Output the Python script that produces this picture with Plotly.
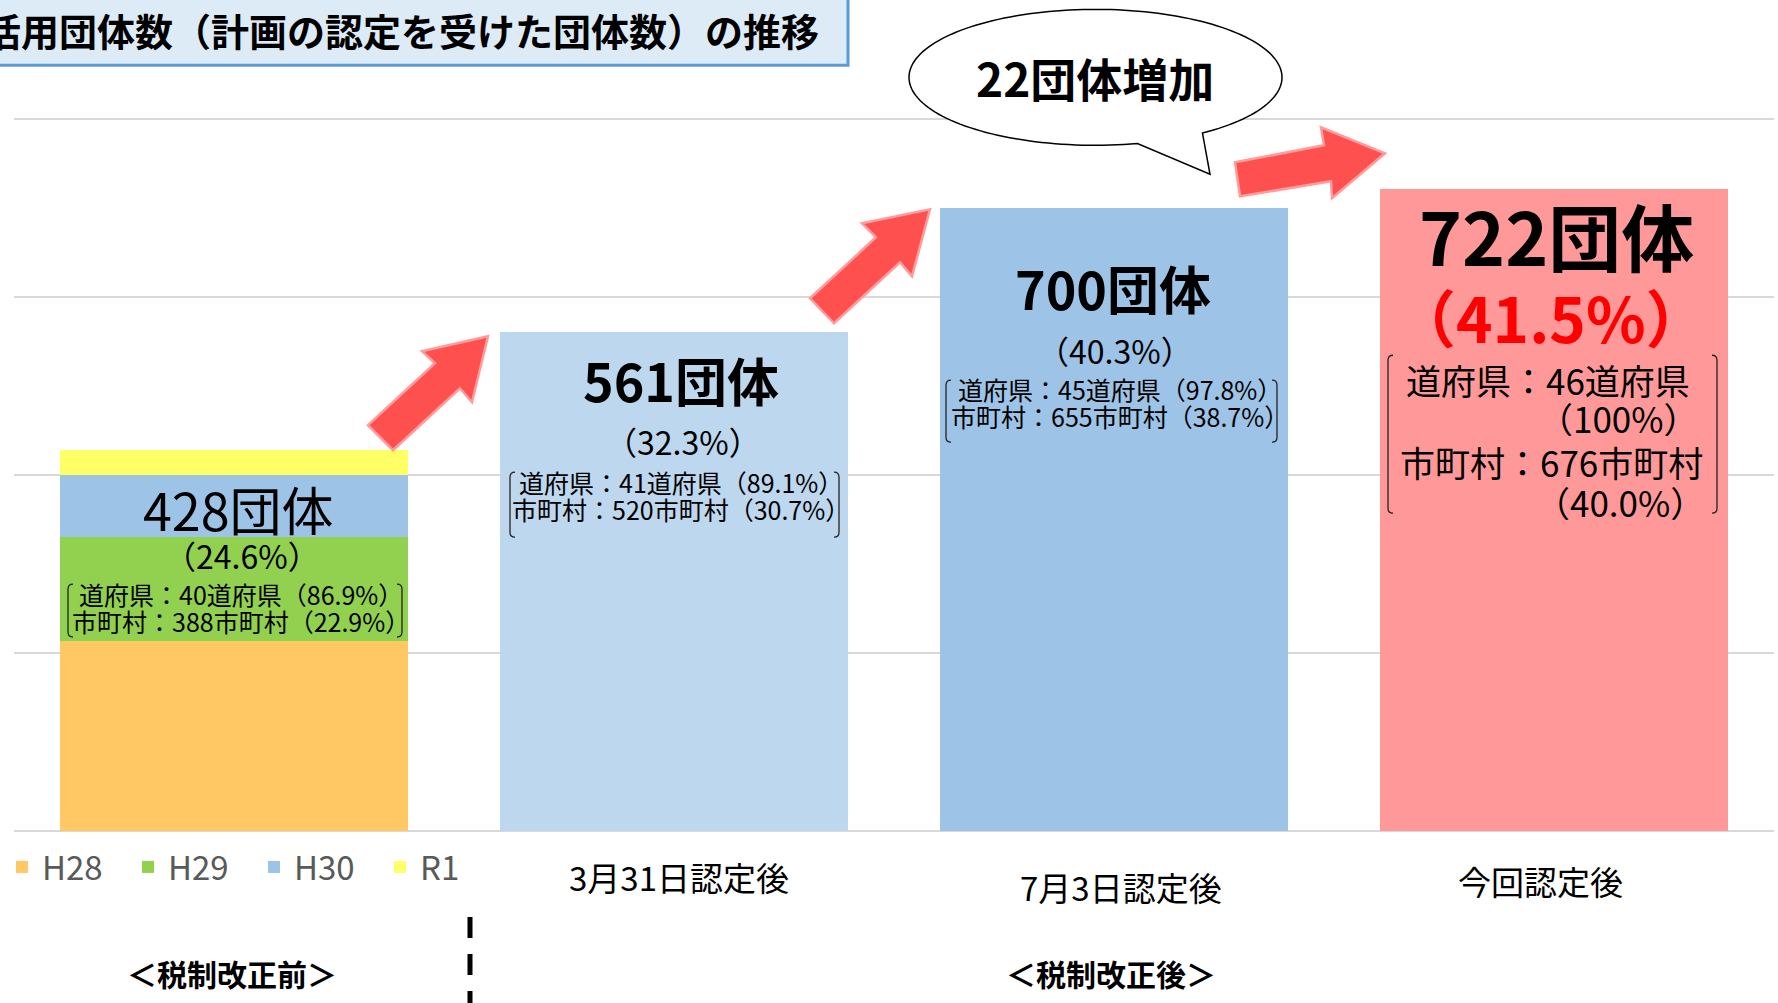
import numpy as np
import plotly.graph_objects as go

# ---------------- data ----------------
categories = ["", "3月31日認定後", "7月3日認定後", "今回認定後"]
stack_names = ["H28", "H29", "H30", "R1"]
stack_values = [214, 116, 70, 28]
after_values = [None, 561, 700, 722]
totals = [428, 561, 700, 722]
rates = ["24.6%", "32.3%", "40.3%", "41.5%"]
pref_counts = [40, 41, 45, 46]
pref_rates = ["86.9%", "89.1%", "97.8%", "100%"]
muni_counts = [388, 520, 655, 676]
muni_rates = ["22.9%", "30.7%", "38.7%", "40.0%"]
y_ticks = [0, 200, 400, 600, 800]
period_labels = ["＜税制改正前＞", "＜税制改正後＞"]
title_text = "活用団体数（計画の認定を受けた団体数）の推移"

# ---------------- styles ----------------
stack_colors = ["#FFC864", "#92D050", "#9DC3E6", "#FFFF66"]
after_colors = ["#BDD7EE", "#BDD7EE", "#9DC3E6", "#FF9999"]
JP = "Noto Sans CJK JP"
W, H = 1778, 1003
Y_MAX = 806                       # a little head-room so the 800 gridline shows
L, R, B = 14, 1774, 831
T = B - 712 * Y_MAX / 800         # 800 lands at pixel 119


def px(x):
    return (x - L) / (R - L)


def py(y):
    return (B - y) / (B - T)


xs = list(range(len(categories)))

fig = go.Figure()
for name, val, col in zip(stack_names, stack_values, stack_colors):
    fig.add_trace(go.Bar(
        x=xs, y=[val] + [None] * (len(xs) - 1), name=name,
        marker=dict(color=col, line=dict(width=0)), width=0.79,
        hoverinfo="skip"))
fig.add_trace(go.Bar(
    x=xs, y=after_values, name="after", showlegend=False,
    marker=dict(color=after_colors, line=dict(width=0)), width=0.79,
    hoverinfo="skip"))

annotations = []


def ann(text, x, y, size, bold=False, color="black", xref="x", xanchor="center", xshift=0):
    if bold:
        text = "<b>" + text + "</b>"
    annotations.append(dict(text=text, x=x, y=py(y), xref=xref, yref="paper",
                            showarrow=False, xanchor=xanchor, yanchor="middle",
                            xshift=xshift,
                            font=dict(family=JP, size=size, color=color)))


def pref_line(i):
    return f"道府県：{pref_counts[i]}道府県（{pref_rates[i]}）"


def muni_line(i):
    return f"市町村：{muni_counts[i]}市町村（{muni_rates[i]}）"


# bar 1
ann(f"{totals[0]}団体", 0, 508, 52, xshift=4.5)
ann(f"（{rates[0]}）", 0, 555, 32, xshift=8)
ann(pref_line(0), 0, 594, 25, xshift=7)
ann(muni_line(0), 0, 621, 25, xshift=7)
# bar 2
ann(f"{totals[1]}団体", 1, 379, 52, bold=True, xshift=6.5)
ann(f"（{rates[1]}）", 1, 441, 32, xshift=9)
ann(pref_line(1), 1, 482, 25, xshift=7)
ann(muni_line(1), 1, 509, 25, xshift=7)
# bar 3
ann(f"{totals[2]}団体", 2, 287, 52, bold=True, xshift=-1.5)
ann(f"（{rates[2]}）", 2, 350, 32, xshift=1)
ann(pref_line(2), 2, 389, 25, xshift=6)
ann(muni_line(2), 2, 416, 25, xshift=6)
# bar 4
ann(f"{totals[3]}団体", 3, 234, 73, bold=True, xshift=2.5)
ann(f"（{rates[3]}）", 3, 316, 62, bold=True, color="#FF0000", xshift=-3)
ann(f"道府県：{pref_counts[3]}道府県", 3, 379, 35, xshift=-6.5)
ann(f"（{pref_rates[3]}）", 3, 417, 35, xanchor="right", xshift=147)
ann(f"市町村：{muni_counts[3]}市町村", 3, 461, 35, xshift=-3)
ann(f"（{muni_rates[3]}）", 3, 501, 35, xanchor="right", xshift=153)

# category labels
ann(categories[1], 1, 877, 33, xshift=4.5)
ann(categories[2], 2, 887, 33, xshift=6.5)
ann(categories[3], 3, 881, 33, xshift=-13.5)

# period labels
ann(period_labels[0], px(232), 973, 30, bold=True, xref="paper")
ann(period_labels[1], px(1111), 973, 30, bold=True, xref="paper")

# callout text
ann(f"{totals[3] - totals[2]}団体増加", px(1095), 77, 46, bold=True, xref="paper")

# title
ann(title_text, px(821), 29, 38, bold=True, xref="paper", xanchor="right")

shapes = []


def path_from(points, close=True):
    s = "M " + " L ".join(f"{px(a):.5f},{py(b):.5f}" for a, b in points)
    return s + (" Z" if close else "")


# title box
shapes.append(dict(type="rect", xref="paper", yref="paper",
                   x0=px(-6), x1=px(848), y0=py(-6), y1=py(65),
                   fillcolor="#DDEBF7", line=dict(color="#5B9BD5", width=3),
                   layer="below"))

# brackets
brackets = [(68, 402, 584, 637), (510, 839, 472, 537),
            (946, 1277, 380, 442), (1388, 1717, 355, 513)]
for l_, r_, t_, b_ in brackets:
    c = 5
    left = (f"M {px(l_ + c):.5f},{py(t_):.5f} Q {px(l_):.5f},{py(t_):.5f} {px(l_):.5f},{py(t_ + c):.5f} "
            f"L {px(l_):.5f},{py(b_ - c):.5f} Q {px(l_):.5f},{py(b_):.5f} {px(l_ + c):.5f},{py(b_):.5f}")
    right = (f"M {px(r_ - c):.5f},{py(t_):.5f} Q {px(r_):.5f},{py(t_):.5f} {px(r_):.5f},{py(t_ + c):.5f} "
             f"L {px(r_):.5f},{py(b_ - c):.5f} Q {px(r_):.5f},{py(b_):.5f} {px(r_ - c):.5f},{py(b_):.5f}")
    for p in (left, right):
        shapes.append(dict(type="path", xref="paper", yref="paper", path=p,
                           line=dict(color="#222222", width=1.3)))

# arrows
arrows = [
    [(368, 425), (435, 363), (422, 351), (488, 336), (472, 402), (460, 388), (393, 450)],
    [(810, 298), (876, 237), (862, 223), (930, 209), (912, 276), (900, 262), (834, 323)],
    [(1235, 162), (1324, 145), (1321, 127), (1385, 153), (1332, 198), (1331, 181), (1240, 196)],
]
for pts in arrows:
    shapes.append(dict(type="path", xref="paper", yref="paper", path=path_from(pts),
                       fillcolor="#FF5050", line=dict(color="#FF9B9B", width=2.5)))

# callout ellipse with tail
cx, cy, rx, ry = 1095.5, 77, 186.5, 68
t0, t1 = np.deg2rad(77), np.deg2rad(55 + 360)
tt = np.linspace(t0, t1, 160)
pts = [(cx + rx * np.cos(t), cy + ry * np.sin(t)) for t in tt]
pts.append((1210, 174))
shapes.append(dict(type="path", xref="paper", yref="paper", path=path_from(pts),
                   fillcolor="white", line=dict(color="black", width=1.5)))

# dashed divider
shapes.append(dict(type="line", xref="paper", yref="paper",
                   x0=px(470), x1=px(470), y0=py(917), y1=py(1010),
                   line=dict(color="black", width=5, dash="21px,16px")))

fig.update_layout(
    width=W, height=H,
    barmode="stack",
    margin=dict(l=L, r=W - R, t=T, b=H - B, autoexpand=False),
    paper_bgcolor="white", plot_bgcolor="white",
    font=dict(family=JP),
    showlegend=True,
    legend=dict(orientation="h", x=px(2), xanchor="left", y=py(867), yanchor="middle",
                font=dict(family=JP, size=33, color="#595959"),
                entrywidth=81, entrywidthmode="pixels", traceorder="normal",
                bgcolor="rgba(0,0,0,0)"),
    xaxis=dict(range=[-0.5, len(xs) - 0.5], showticklabels=False, showgrid=False,
               zeroline=False, showline=False, fixedrange=True),
    yaxis=dict(range=[0, Y_MAX], tickvals=y_ticks, showticklabels=False,
               showgrid=True, gridcolor="#D9D9D9", gridwidth=2,
               zeroline=True, zerolinecolor="#D9D9D9", zerolinewidth=2,
               showline=False),
    annotations=annotations,
    shapes=shapes,
)

fig.write_html("out.html", config={"displayModeBar": False},
               post_script="document.body.style.margin='0px';")
